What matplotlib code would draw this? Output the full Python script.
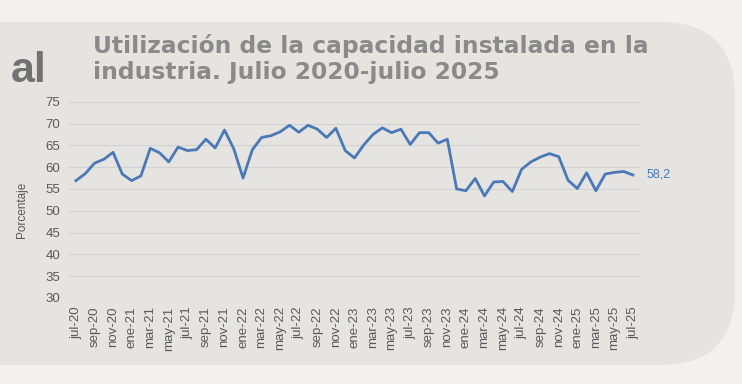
import matplotlib
matplotlib.use("Agg")
import matplotlib.pyplot as plt
from matplotlib.patches import FancyBboxPatch

# monthly data, jul-20 .. jul-25
meses = ["ene", "feb", "mar", "abr", "may", "jun", "jul", "ago", "sep", "oct", "nov", "dic"]
labels = [f"{meses[(6 + i) % 12]}-{20 + (6 + i) // 12}" for i in range(61)]
valores = [
    56.9, 58.5, 60.9, 61.8, 63.4, 58.4, 56.9, 58.0, 64.3, 63.3, 61.2, 64.6,
    63.8, 64.0, 66.4, 64.4, 68.5, 64.2, 57.5, 64.0, 66.8, 67.2, 68.1, 69.6,
    68.0, 69.6, 68.7, 66.8, 68.9, 63.8, 62.1, 65.1, 67.5, 69.0, 67.9, 68.7,
    65.2, 67.9, 67.9, 65.5, 66.4, 55.0, 54.6, 57.4, 53.4, 56.6, 56.7, 54.4,
    59.5, 61.2, 62.3, 63.1, 62.4, 57.0, 55.1, 58.7, 54.6, 58.4, 58.8, 59.0,
    58.2,
]
ultimo = "58,2"
yticks = [30, 35, 40, 45, 50, 55, 60, 65, 70, 75]

W, H = 742, 384
fig = plt.figure(figsize=(W / 100, H / 100), dpi=100)
fig.patch.set_facecolor("#f3f1ed")

# background panel in pixel coords
bg = fig.add_axes([0, 0, 1, 1], zorder=0)
bg.set_xlim(0, W); bg.set_ylim(H, 0); bg.axis("off")
bg.add_patch(FancyBboxPatch((-100, 22), 835, 343, boxstyle="round,pad=0,rounding_size=75",
                            fc="#e5e4e1", ec="none"))
bg.text(47, 71, "al", fontsize=31, fontweight="bold", color="#727272", ha="right", va="center",
        family="Liberation Sans")
bg.text(93, 46, "Utilización de la capacidad instalada en la", fontsize=16.8, fontweight="bold",
        color="#8a8a8a", va="center", family="DejaVu Sans")
bg.text(93, 73, "industria. Julio 2020-julio 2025", fontsize=16.8, fontweight="bold",
        color="#8a8a8a", va="center", family="DejaVu Sans")
bg.text(22, 210, "Porcentaje", fontsize=8.5, color="#595959", rotation=90, ha="center", va="center",
        family="Liberation Sans")

ax = fig.add_axes([68.5 / W, 1 - 298 / H, (640 - 68.5) / W, (298 - 101.7) / H], zorder=1)
ax.set_facecolor("none")
x = list(range(len(valores)))
ax.plot(x, valores, color="#4a78b8", lw=2.0, solid_joinstyle="round")
ax.text(x[-1] + 1.5, valores[-1], ultimo, color="#4a78b8", fontsize=9, va="center",
        family="Liberation Sans")
ax.set_ylim(30, 75)
ax.set_xlim(-0.8, 60.75)
ax.set_yticks(yticks)
ax.set_yticklabels([str(v) for v in yticks], family="Liberation Sans", fontsize=9.5, color="#595959")
ax.set_xticks(x[::2])
ax.set_xticklabels(labels[::2], rotation=90, family="Liberation Sans", fontsize=9.5, color="#595959")
ax.grid(axis="y", color="#d2d2d2", lw=0.8)
ax.tick_params(length=0, pad=6)
for s in ax.spines.values():
    s.set_visible(False)

fig.savefig("out.png", dpi=100, facecolor=fig.get_facecolor())
